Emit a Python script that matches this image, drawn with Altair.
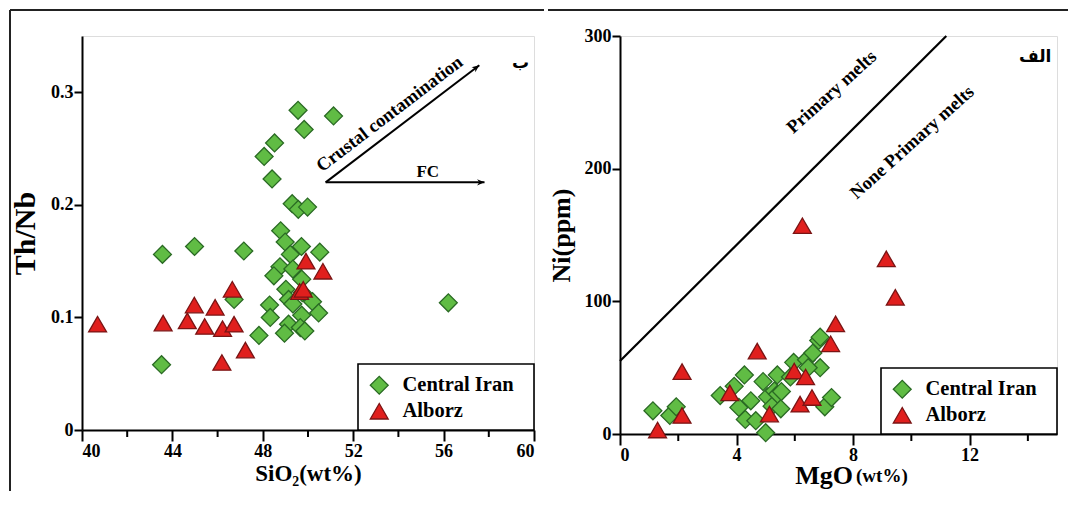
import math
import altair as alt
import pandas as pd

# ---------------- data ----------------
groups = ["Central Iran", "Alborz"]
fills = ["#60bc44", "#e01f1d"]
strokes = ["#2a6a24", "#7a1414"]
shapes = ["diamond", "triangle-up"]

# Left panel: SiO2 (wt%) vs Th/Nb
ci_sio2 = [43.56, 44.98, 47.16, 43.52, 46.73, 47.83, 48.06, 48.52, 48.41, 49.56,
           51.13, 49.83, 49.30, 49.57, 49.98, 48.79, 48.99, 49.22, 49.71, 50.52,
           48.76, 48.49, 49.33, 49.72, 49.02, 49.14, 49.33, 50.20, 50.47, 48.30,
           48.33, 49.72, 49.14, 48.96, 49.66, 49.86, 56.21, 49.75]
ci_thnb = [0.156, 0.163, 0.159, 0.058, 0.116, 0.084, 0.243, 0.255, 0.223, 0.284,
           0.279, 0.267, 0.201, 0.196, 0.198, 0.177, 0.167, 0.156, 0.163, 0.158,
           0.145, 0.137, 0.143, 0.134, 0.125, 0.116, 0.112, 0.114, 0.104, 0.111,
           0.100, 0.102, 0.094, 0.086, 0.091, 0.088, 0.113, 0.122]
al_sio2 = [40.69, 43.59, 44.66, 44.97, 45.43, 45.89, 46.22, 46.73, 46.65, 46.19,
           47.23, 49.91, 50.66, 49.63, 49.79]
al_thnb = [0.094, 0.095, 0.097, 0.111, 0.092, 0.109, 0.090, 0.094, 0.125, 0.060,
           0.071, 0.150, 0.141, 0.123, 0.125]

# Right panel: MgO (wt%) vs Ni (ppm)
ci_mgo = [1.13, 1.71, 1.93, 3.44, 3.92, 4.27, 4.08, 4.49, 4.30, 4.66,
          4.91, 5.00, 5.06, 5.22, 5.40, 5.30, 5.41, 5.52, 5.85, 5.96,
          6.40, 6.62, 6.87, 6.82, 6.87, 7.03, 7.26, 6.46, 5.54]
ci_ni = [17.5, 14, 20.5, 29, 36, 44.5, 20, 25, 11, 10,
         39.5, 1, 28, 21, 44.5, 32.5, 30, 19, 43, 54,
         56, 61, 50, 70.5, 73, 20.5, 27.5, 50, 32]
al_mgo = [1.29, 2.13, 2.13, 3.77, 4.71, 5.13, 5.98, 6.37, 6.18, 6.59,
          7.23, 7.40, 6.26, 9.14, 9.45]
al_ni = [3, 47, 14, 31, 62.5, 15, 47.5, 43, 22.5, 27.5,
         68, 83, 157, 132, 103]

# axes ticks
left_x_ticks = [40, 44, 48, 52, 56, 60]
left_x_minor = [42, 46, 50, 54, 58]
left_y_ticks = [0, 0.1, 0.2, 0.3]
right_x_ticks = [0, 4, 8, 12]
right_x_minor = [2, 6, 10, 14]
right_y_ticks = [0, 100, 200, 300]

# annotations
arrow_start = (50.78, 0.220)
arrow_cc_end = (57.58, 0.324)
arrow_fc_end = (57.81, 0.220)
boundary_x = [0, 11.2]
boundary_y = [55, 300]

# ---------------- layout ----------------
W1, H1 = 452, 394
W2, H2 = 437, 398
XD1, YD1 = [40, 60], [0, 0.35]
XD2, YD2 = [0, 15], [0, 300]
SERIF = "Liberation Serif"
PT_SIZE = 320
LEG_W, LEG_H = 176, 66


def px1(x, y):
    return ((x - XD1[0]) / (XD1[1] - XD1[0]) * W1, H1 - (y - YD1[0]) / (YD1[1] - YD1[0]) * H1)


def screen_angle(p0, p1):
    a = math.degrees(math.atan2(p1[1] - p0[1], p1[0] - p0[0]))
    return a % 360


df1 = pd.DataFrame({
    "x": ci_sio2 + al_sio2,
    "y": ci_thnb + al_thnb,
    "group": [groups[0]] * len(ci_sio2) + [groups[1]] * len(al_sio2),
})
df2 = pd.DataFrame({
    "x": ci_mgo + al_mgo,
    "y": ci_ni + al_ni,
    "group": [groups[0]] * len(ci_mgo) + [groups[1]] * len(al_mgo),
})

axis_common = dict(domainColor="black", domainWidth=2, tickColor="black", tickWidth=2,
                   labelFont=SERIF, labelFontWeight="bold", labelFontSize=18, labelColor="black",
                   titleFont=SERIF, titleFontWeight="bold", titleColor="black", grid=False)

frame_df = pd.DataFrame({"k": [0]})


def legend_obj(W, H):
    return alt.Legend(title=None, orient="none", legendX=W - LEG_W, legendY=H - LEG_H,
                      padding=11, labelFont=SERIF, labelFontSize=20.5, labelFontWeight="bold",
                      labelColor="black", symbolSize=PT_SIZE, symbolStrokeWidth=1.3,
                      labelOffset=13, rowPadding=3)


def legend_box(W, H):
    return alt.Chart(frame_df).mark_rect(fill="white", stroke="black", strokeWidth=1.6).encode(
        x=alt.value(W - LEG_W), x2=alt.value(W), y=alt.value(H - LEG_H), y2=alt.value(H))


def points(df, xdom, ydom, W, H, xaxis, yaxis):
    leg = legend_obj(W, H)
    return alt.Chart(df).mark_point(filled=True, size=PT_SIZE, strokeWidth=1.3, opacity=1).encode(
        x=alt.X("x:Q", scale=alt.Scale(domain=xdom, nice=False, zero=False), axis=xaxis),
        y=alt.Y("y:Q", scale=alt.Scale(domain=ydom, nice=False, zero=False), axis=yaxis),
        shape=alt.Shape("group:N", scale=alt.Scale(domain=groups, range=shapes), legend=leg),
        fill=alt.Fill("group:N", scale=alt.Scale(domain=groups, range=fills), legend=leg),
        stroke=alt.Stroke("group:N", scale=alt.Scale(domain=groups, range=strokes), legend=leg),
    )


# ---------------- left panel ----------------
xax1 = alt.Axis(values=left_x_ticks, title="SiO₂(wt%)", titleFontSize=23, tickSize=11,
                labelPadding=1, titlePadding=2, **axis_common)
yax1 = alt.Axis(values=left_y_ticks, title="Th/Nb", titleFontSize=30, tickSize=8, labelPadding=1,
                titlePadding=10, labelExpr="datum.value == 0 ? '0' : format(datum.value, '.1f')",
                **axis_common)
pts1 = points(df1, XD1, YD1, W1, H1, xax1, yax1)

minor1 = alt.Chart(pd.DataFrame({"x": left_x_minor})).mark_rule(color="black", strokeWidth=2).encode(
    x=alt.X("x:Q", scale=alt.Scale(domain=XD1, nice=False, zero=False)),
    y=alt.value(H1), y2=alt.value(H1 + 7))

arrows = pd.DataFrame({
    "x0": [arrow_start[0], arrow_start[0]], "y0": [arrow_start[1], arrow_start[1]],
    "x1": [arrow_cc_end[0], arrow_fc_end[0]], "y1": [arrow_cc_end[1], arrow_fc_end[1]],
})
arrows["ang"] = [screen_angle(px1(r.x0, r.y0), px1(r.x1, r.y1)) for r in arrows.itertuples()]
arrow_lines = alt.Chart(arrows).mark_rule(color="black", strokeWidth=2).encode(
    x="x0:Q", y="y0:Q", x2="x1:Q", y2="y1:Q")
arrow_heads = alt.Chart(arrows).mark_point(
    shape="M0,0L-1,-0.42L-0.7,0L-1,0.42Z", filled=True, color="black", size=220, opacity=1
).encode(x="x1:Q", y="y1:Q", angle=alt.Angle("ang:Q", scale=None))

cc_ang = screen_angle(px1(*arrow_start), px1(*arrow_cc_end))
ann1 = pd.DataFrame({
    "x": [53.6, 55.3],
    "y": [0.281, 0.229],
    "t": ["Crustal contamination", "FC"],
    "a": [cc_ang, 0.0],
    "s": [18.5, 17],
})
ann1_text = alt.Chart(ann1).mark_text(font=SERIF, fontWeight="bold", color="black").encode(
    x="x:Q", y="y:Q", text="t:N", angle=alt.Angle("a:Q", scale=None),
    size=alt.Size("s:Q", scale=None))
letter1 = alt.Chart(pd.DataFrame({"x": [59.4], "y": [0.326], "t": ["ب"]})).mark_text(
    font="DejaVu Sans", fontWeight="bold", fontSize=17, color="black").encode(x="x:Q", y="y:Q", text="t:N")

frame_top1 = alt.Chart(frame_df).mark_rule(color="#222", strokeWidth=2).encode(
    x=alt.value(-72), x2=alt.value(462), y=alt.value(-26))
frame_left1 = alt.Chart(frame_df).mark_rule(color="#222", strokeWidth=2).encode(
    x=alt.value(-72), y=alt.value(-26), y2=alt.value(455))

left = alt.layer(frame_top1, frame_left1, minor1, arrow_lines, arrow_heads, ann1_text, letter1,
                 legend_box(W1, H1), pts1).properties(width=W1, height=H1)

# ---------------- right panel ----------------
xax2 = alt.Axis(values=right_x_ticks, title=None, tickSize=11, labelPadding=1, **axis_common)
yax2 = alt.Axis(values=right_y_ticks, title="Ni(ppm)", titleFontSize=26, tickSize=8, labelPadding=1,
                titlePadding=10, **axis_common)
pts2 = points(df2, XD2, YD2, W2, H2, xax2, yax2)

minor2 = alt.Chart(pd.DataFrame({"x": right_x_minor})).mark_rule(color="black", strokeWidth=2).encode(
    x=alt.X("x:Q", scale=alt.Scale(domain=XD2, nice=False, zero=False)),
    y=alt.value(H2), y2=alt.value(H2 + 7))

bnd = pd.DataFrame({"x0": [boundary_x[0]], "y0": [boundary_y[0]], "x1": [boundary_x[1]], "y1": [boundary_y[1]]})
bnd_line = alt.Chart(bnd).mark_rule(color="black", strokeWidth=2.2).encode(
    x="x0:Q", y="y0:Q", x2="x1:Q", y2="y1:Q")

ann2 = pd.DataFrame({
    "x": [7.26, 10.02],
    "y": [258, 220],
    "t": ["Primary melts", "None Primary melts"],
    "a": [318.0, 318.0],
})
ann2_text = alt.Chart(ann2).mark_text(font=SERIF, fontWeight="bold", fontSize=18.5, color="black").encode(
    x="x:Q", y="y:Q", text="t:N", angle=alt.Angle("a:Q", scale=None))
letter2 = alt.Chart(pd.DataFrame({"x": [14.25], "y": [284], "t": ["الف"]})).mark_text(
    font="DejaVu Sans", fontWeight="bold", fontSize=17, color="black").encode(x="x:Q", y="y:Q", text="t:N")

xtitle_a = alt.Chart(frame_df).mark_text(font=SERIF, fontWeight="bold", fontSize=26, color="black",
                                         align="right", baseline="alphabetic").encode(
    x=alt.value(233), y=alt.value(H2 + 50), text=alt.value("MgO"))
xtitle_b = alt.Chart(frame_df).mark_text(font=SERIF, fontWeight="bold", fontSize=19, color="black",
                                         align="left", baseline="alphabetic").encode(
    x=alt.value(236), y=alt.value(H2 + 48), text=alt.value("(wt%)"))

frame_top2 = alt.Chart(frame_df).mark_rule(color="#222", strokeWidth=2).encode(
    x=alt.value(-72), x2=alt.value(448), y=alt.value(-26))

right = alt.layer(frame_top2, minor2, bnd_line, ann2_text, letter2, xtitle_a, xtitle_b,
                  legend_box(W2, H2), pts2).properties(width=W2, height=H2)

chart = alt.hconcat(left, right, spacing=0).resolve_scale(
    shape="independent", fill="independent", stroke="independent"
).properties(padding=0).configure_view(stroke="black", strokeWidth=1.5).configure_legend(
    labelFont=SERIF, labelFontWeight="bold", labelFontSize=20.5, labelColor="black"
).configure(background="white")

chart.save("out.html", embed_options={"renderer": "svg", "actions": False})
